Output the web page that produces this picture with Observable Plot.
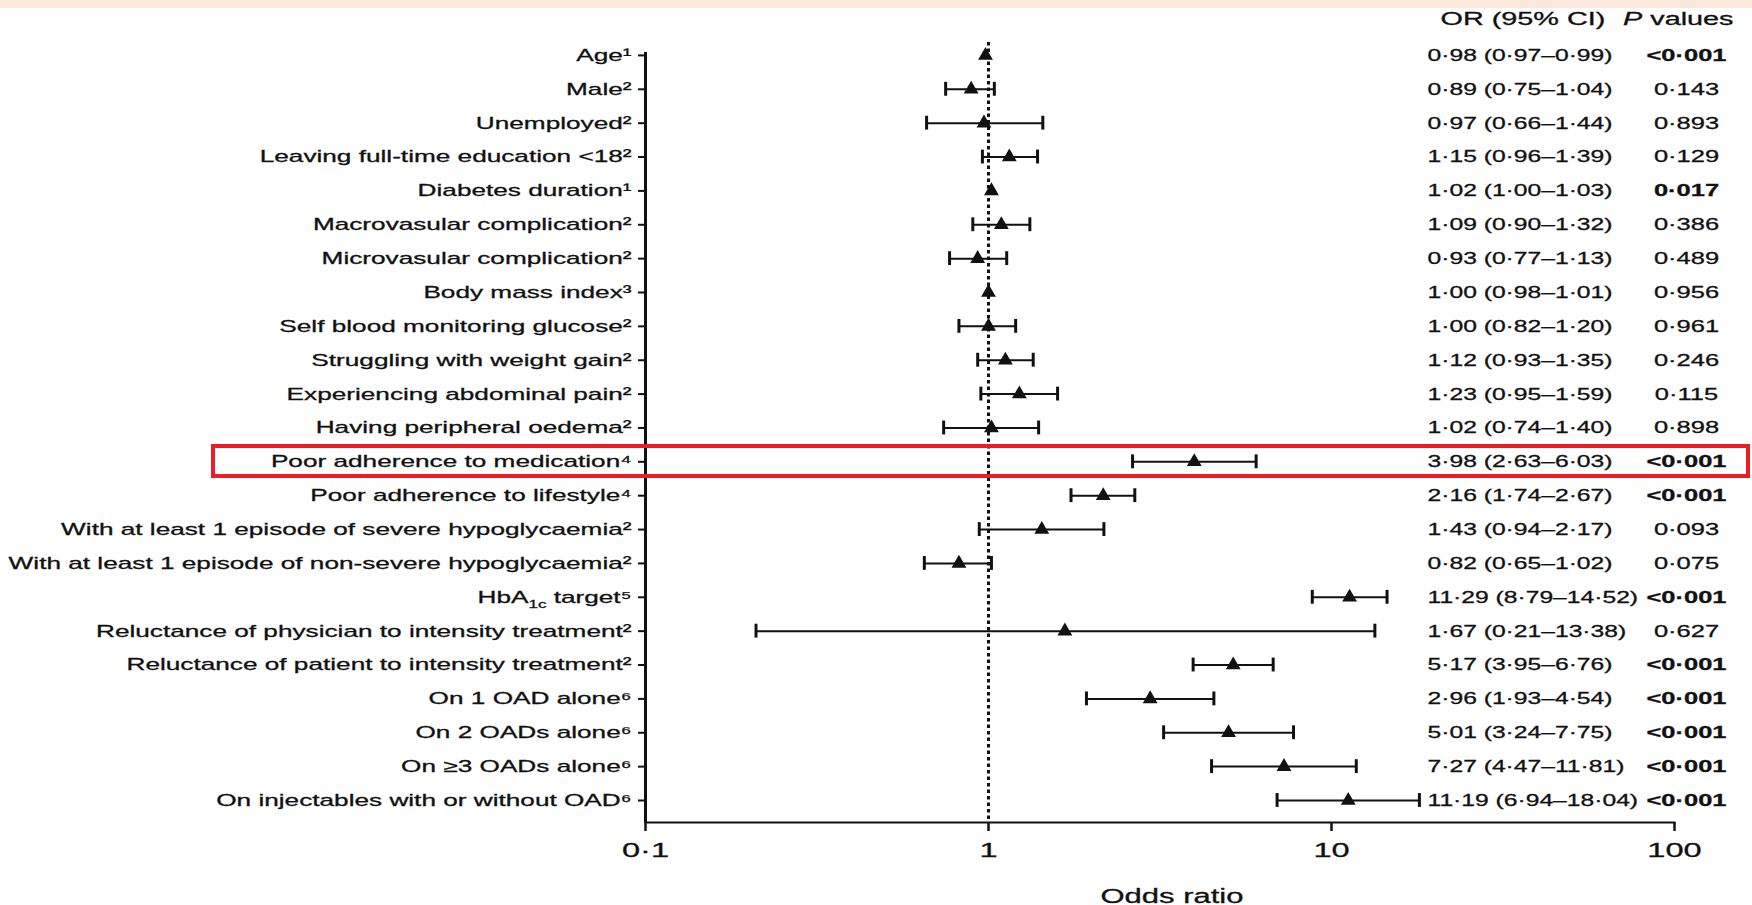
<!DOCTYPE html>
<html>
<head>
<meta charset="utf-8">
<script src="https://cdn.jsdelivr.net/npm/d3@7"></script>
<script src="https://cdn.jsdelivr.net/npm/@observablehq/plot@0.6"></script>
<style>
  html, body { margin: 0; padding: 0; background: #fff; overflow: hidden; }
  #wrap { position: relative; width: 1752px; height: 905px; }
  #band { position: absolute; left: 0; top: 0; width: 1752px; height: 8px; background: #fde9db; }
  #hl { position: absolute; box-sizing: border-box; border: 4px solid #ec1c24; pointer-events: none; }
  svg text { stroke: #111; stroke-width: 0.3px; }
</style>
</head>
<body>
<div id="wrap"><div id="band"></div><div id="hl"></div></div>
<script>
// ---- data ----
const labels = [
  "Age¹",
  "Male²",
  "Unemployed²",
  "Leaving full-time education <18²",
  "Diabetes duration¹",
  "Macrovasular complication²",
  "Microvasular complication²",
  "Body mass index³",
  "Self blood monitoring glucose²",
  "Struggling with weight gain²",
  "Experiencing abdominal pain²",
  "Having peripheral oedema²",
  "Poor adherence to medication⁴",
  "Poor adherence to lifestyle⁴",
  "With at least 1 episode of severe hypoglycaemia²",
  "With at least 1 episode of non-severe hypoglycaemia²",
  "HbA1c target⁵",
  "Reluctance of physician to intensity treatment²",
  "Reluctance of patient to intensity treatment²",
  "On 1 OAD alone⁶",
  "On 2 OADs alone⁶",
  "On ≥3 OADs alone⁶",
  "On injectables with or without OAD⁶"
];
const orValues = [0.98, 0.89, 0.97, 1.15, 1.02, 1.09, 0.93, 1.00, 1.00, 1.12, 1.23, 1.02, 3.98, 2.16, 1.43, 0.82, 11.29, 1.67, 5.17, 2.96, 5.01, 7.27, 11.19];
const ciLow    = [0.97, 0.75, 0.66, 0.96, 1.00, 0.90, 0.77, 0.98, 0.82, 0.93, 0.95, 0.74, 2.63, 1.74, 0.94, 0.65, 8.79, 0.21, 3.95, 1.93, 3.24, 4.47, 6.94];
const ciHigh   = [0.99, 1.04, 1.44, 1.39, 1.03, 1.32, 1.13, 1.01, 1.20, 1.35, 1.59, 1.40, 6.03, 2.67, 2.17, 1.02, 14.52, 13.38, 6.76, 4.54, 7.75, 11.81, 18.04];
const pValues  = ["<0·001", "0·143", "0·893", "0·129", "0·017", "0·386", "0·489", "0·956", "0·961", "0·246", "0·115", "0·898", "<0·001", "<0·001", "0·093", "0·075", "<0·001", "0·627", "<0·001", "<0·001", "<0·001", "<0·001", "<0·001"];
const xTickValues = [0.1, 1, 10, 100];
const xTickLabels = ["0·1", "1", "10", "100"];
const headerOR = "OR (95% CI)";
const headerP = "P values";
const xLabel = "Odds ratio";
const highlighted = "Poor adherence to medication⁴";

// ---- derived table ----
const fmt = v => v.toFixed(2).replace(".", "·");
const isSig = p => p.startsWith("<") || parseFloat(p.replace("·", ".")) < 0.05;
const rows = labels.map((label, i) => ({
  label, or: orValues[i], lo: ciLow[i], hi: ciHigh[i], p: pValues[i],
  ci: `${fmt(orValues[i])} (${fmt(ciLow[i])}–${fmt(ciHigh[i])})`
}));
// error bars shorter than the marker are hidden (as in the original software)
const withBars = rows.filter(d => d.hi / d.lo > 1.08);

const ink = "#111";
const chart = Plot.plot({
  width: 1752,
  height: 905,
  marginLeft: 645,
  marginRight: 78,
  marginTop: 38,
  marginBottom: 83,
  style: {fontFamily: "'Liberation Sans', Arial, sans-serif", fontSize: "17px", color: ink, background: "transparent", overflow: "visible"},
  x: {type: "log", domain: [0.1, 100]},
  y: {type: "band", domain: labels, paddingInner: 0, paddingOuter: 0.075, align: 0, round: false},
  marks: [
    Plot.ruleX([1], {stroke: ink, strokeWidth: 3, strokeDasharray: "3.5,3", insetTop: 4}),
    Plot.ruleX([0.1], {stroke: ink, strokeWidth: 3, insetTop: 14}),
    Plot.frame({anchor: "bottom", stroke: ink, strokeWidth: 2}),
    Plot.axisY({tickSize: 7, tickPadding: 7, fontSize: 17, stroke: ink, strokeWidth: 2, label: null}),
    Plot.axisX({ticks: xTickValues, tickFormat: d => xTickLabels[xTickValues.indexOf(d)], tickSize: 9, tickPadding: 11, fontSize: 21, stroke: ink, strokeWidth: 2.5, label: null}),
    Plot.ruleY(withBars, {x1: "lo", x2: "hi", y: "label", stroke: ink, strokeWidth: 2}),
    Plot.tickX(withBars, {x: "lo", y: "label", insetTop: 10, insetBottom: 10, stroke: ink, strokeWidth: 3}),
    Plot.tickX(withBars, {x: "hi", y: "label", insetTop: 10, insetBottom: 10, stroke: ink, strokeWidth: 3}),
    Plot.dot(rows, {x: "or", y: "label", symbol: "triangle", r: 5.5, fill: ink, stroke: null}),
    Plot.text(rows, {ariaDescription: "ci-text", y: "label", text: "ci", frameAnchor: "right", textAnchor: "start", dx: -247, fontSize: 17, fill: ink}),
    Plot.text(rows.filter(d => !isSig(d.p)), {ariaDescription: "p-text", y: "label", text: "p", frameAnchor: "right", textAnchor: "middle", dx: 12, fontSize: 17, fill: ink}),
    Plot.text(rows.filter(d => isSig(d.p)), {ariaDescription: "p-text", y: "label", text: "p", frameAnchor: "right", textAnchor: "middle", dx: 12, fontSize: 17, fontWeight: "bold", fill: ink}),
    Plot.text([headerOR], {ariaDescription: "header", text: d => d, frameAnchor: "top-right", lineAnchor: "middle", textAnchor: "start", dx: -234, dy: -19, fontSize: 18, fill: ink}),
    Plot.text([headerP], {ariaDescription: "header", text: d => d, frameAnchor: "top-right", lineAnchor: "middle", textAnchor: "end", dx: 59, dy: -19, fontSize: 18, fill: ink}),
    Plot.text([xLabel], {ariaDescription: "axis-title", text: d => d, frameAnchor: "bottom", lineAnchor: "middle", dx: 12, dy: 74, fontSize: 20, fill: ink})
  ]
});

const wrap = document.getElementById("wrap");
wrap.appendChild(chart);
const svg = chart;
const NS = "http://www.w3.org/2000/svg";

// rich text: HbA1c subscript and italic P
svg.querySelectorAll("text").forEach(t => {
  const s = t.textContent;
  if (s === "HbA1c target⁵") {
    t.textContent = "";
    const parts = [["HbA", null, null], ["1c", "11px", 5], [" target⁵", null, -5]];
    for (const [txt, fs, dy] of parts) {
      const sp = document.createElementNS(NS, "tspan");
      sp.textContent = txt;
      if (fs) sp.setAttribute("font-size", fs);
      if (dy) sp.setAttribute("dy", dy);
      t.appendChild(sp);
    }
  } else if (s === headerP) {
    t.textContent = "";
    const a = document.createElementNS(NS, "tspan");
    a.textContent = "P";
    a.setAttribute("font-style", "italic");
    const b = document.createElementNS(NS, "tspan");
    b.textContent = " values";
    t.appendChild(a); t.appendChild(b);
  }
});

// the reference scan is stretched horizontally: widen glyphs accordingly
const stretchByKey = {"ci-text": 1.45, "p-text": 1.5, "header": 1.6, "axis-title": 1.55, "y-axis tick label": 1.54, "x-axis tick label": 1.55};
svg.querySelectorAll("text").forEach(t => {
  const gd = t.closest("g[aria-description]");
  const gl = t.closest("g[aria-label]");
  const key = gd ? gd.getAttribute("aria-description") : (gl ? gl.getAttribute("aria-label") : "");
  const k = stretchByKey[key] || 1.55;
  const w = t.getComputedTextLength();
  if (w > 0) {
    t.setAttribute("textLength", (w * k).toFixed(1));
    t.setAttribute("lengthAdjust", "spacingAndGlyphs");
  }
});

// highlight box around the marked row, positioned from the y scale
const ys = chart.scale("y");
const cy = ys.apply(highlighted) + ys.bandwidth / 2;
const hl = document.getElementById("hl");
hl.style.left = "211px";
hl.style.top = (cy - 17) + "px";
hl.style.width = "1539px";
hl.style.height = "34px";
</script>
</body>
</html>
